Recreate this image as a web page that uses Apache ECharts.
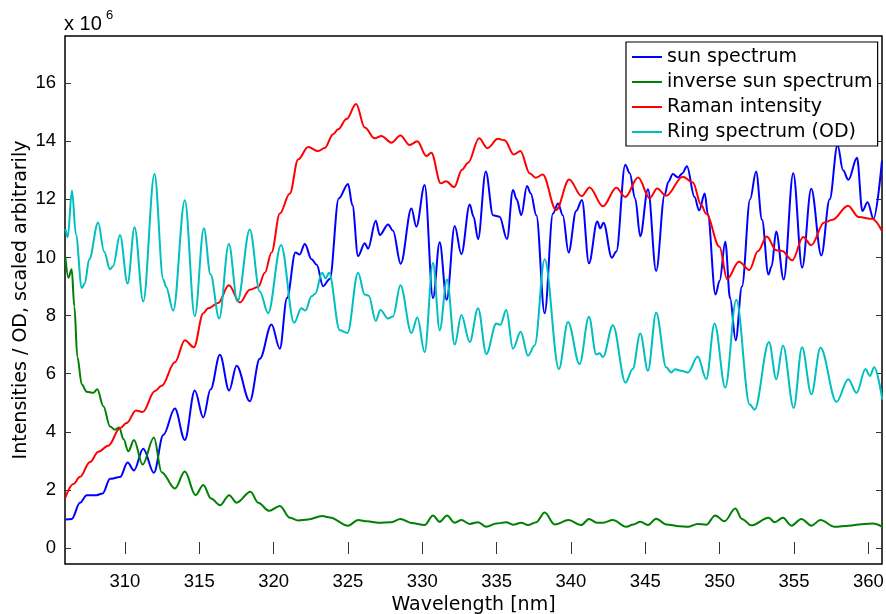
<!DOCTYPE html>
<html>
<head>
<meta charset="utf-8">
<script src="https://cdn.jsdelivr.net/npm/echarts@6/dist/echarts.min.js"></script>
<style>html,body{margin:0;padding:0;background:#fff}#chart{width:886px;height:614px}</style>
</head>
<body>
<div id="chart"></div>
<script>
// spectra, values in units of 1e6 (peaks / valleys)
const sunX = [306.0,306.42,306.98,307.43,308.1,308.5,309.0,309.67,310.18,310.61,311.23,311.95,312.58,313.36,314.03,314.7,315.27,315.76,316.39,317.01,317.51,318.4,319.07,319.86,320.42,320.9,321.47,321.75,322.1,322.55,322.9,323.33,323.78,324.38,325.01,325.3,325.68,326.13,326.35,326.87,327.14,327.7,328.03,328.55,329.27,329.6,330.16,330.72,331.17,331.64,332.18,332.63,333.19,333.45,333.75,334.27,334.76,335.2,335.7,336.1,336.35,336.66,337.04,337.3,337.67,338.23,338.79,339.13,339.45,339.84,340.35,340.74,341.21,341.77,341.97,342.19,342.75,343.05,343.65,343.95,344.32,344.66,345.18,345.73,346.3,346.55,346.85,347.2,347.5,347.8,348.31,348.62,349.0,349.2,349.72,350.0,350.38,350.7,351.08,351.5,352.05,352.45,352.85,353.28,353.5,353.8,354.31,354.95,355.55,356.16,356.84,357.4,357.93,358.3,358.66,359.24,359.6,359.95,360.35,360.92];
const sunY = [0.98,1.0,1.56,1.82,1.82,1.88,2.38,2.44,2.94,2.67,3.42,2.59,3.89,4.8,3.72,5.42,4.49,5.46,6.65,5.42,6.27,5.05,6.51,7.69,6.86,8.6,10.17,10.1,10.46,9.94,9.75,9.01,9.26,12.03,12.53,11.8,10.05,10.49,10.3,11.26,10.77,11.13,10.92,9.78,11.68,11.06,12.49,8.6,10.52,8.54,11.08,10.11,11.82,11.4,10.63,12.96,11.45,11.4,10.63,12.32,12.0,11.45,12.46,12.2,11.45,8.08,11.51,11.86,11.45,10.17,11.6,11.98,9.8,11.24,11.0,11.19,9.99,10.2,13.19,12.9,12.03,10.73,12.35,9.53,12.15,12.6,12.87,12.75,12.9,13.14,12.08,11.62,12.2,11.5,8.72,9.2,10.54,8.6,7.15,9.0,12.0,12.96,11.3,9.41,9.7,10.89,9.24,12.9,9.65,12.36,10.07,12.0,13.87,13.0,12.67,13.43,11.6,11.9,11.33,13.33];

const invX = [306.0,306.2,306.42,306.6,306.8,307.1,307.43,307.87,308.14,308.55,309.0,309.33,309.62,309.9,310.23,310.61,311.19,311.95,312.47,313.36,314.03,314.75,315.27,315.8,316.39,317.01,317.51,318.45,318.96,319.7,320.42,321.09,321.65,322.32,323.26,323.78,325.01,325.68,326.3,327.03,327.92,328.53,329.27,330.16,330.72,331.17,331.66,332.18,332.63,333.19,333.75,334.31,334.98,335.65,336.1,336.66,337.11,337.67,338.23,338.9,339.84,340.69,341.21,341.75,342.15,342.82,343.72,344.2,344.66,345.18,345.73,346.41,347.3,347.86,348.53,349.1,349.7,350.33,351.05,351.5,352.13,353.3,353.7,354.26,354.83,355.5,356.17,356.78,357.75,358.65,359.77,360.3,360.94];
const invY = [9.99,9.3,9.59,8.31,6.57,5.63,5.38,5.34,5.46,4.88,4.18,4.07,4.15,3.75,3.33,3.72,2.87,3.8,2.61,2.05,2.63,1.82,2.17,1.7,1.47,1.82,1.56,1.94,1.56,1.28,1.45,1.04,0.95,0.98,1.1,1.05,0.77,0.96,0.92,0.87,0.89,1.0,0.86,0.79,1.12,0.9,1.12,0.87,0.96,0.83,0.89,0.73,0.84,0.89,0.8,0.87,0.79,0.89,1.22,0.81,0.96,0.79,1.0,0.87,0.87,0.96,0.73,0.81,0.9,0.79,1.01,0.81,0.75,0.73,0.83,0.8,1.12,0.92,1.36,1.0,0.78,1.04,0.89,1.04,0.77,1.0,0.77,0.96,0.73,0.77,0.83,0.84,0.73];

const ramanX = [306.0,306.53,306.98,307.65,308.21,308.88,309.67,310.11,310.74,311.19,312.02,312.47,313.36,314.03,314.64,315.27,315.6,316.27,316.99,317.73,318.4,318.96,319.41,319.86,320.42,321.09,321.65,322.32,323.0,323.44,324.0,324.34,324.9,325.55,326.13,326.8,327.25,327.92,328.53,329.15,329.67,330.27,330.61,331.24,331.6,332.15,332.67,333.08,333.82,334.38,335.09,335.54,336.15,336.6,337.22,337.62,338.1,339.0,339.88,340.72,341.25,342.15,343.05,343.65,344.52,345.29,345.8,346.4,347.52,348.2,348.76,349.1,349.99,350.5,351.3,352.0,352.58,353.17,353.8,354.2,354.88,355.62,356.16,357.03,357.6,358.63,359.35,360.25,360.9];
const ramanY = [1.74,2.2,2.45,2.96,3.31,3.52,4.12,4.3,4.73,4.68,5.4,5.58,6.39,7.15,6.91,8.08,8.25,8.43,9.04,8.45,8.89,8.98,9.47,10.17,11.51,12.2,13.37,13.8,13.66,13.77,14.24,14.41,14.76,15.28,14.47,14.1,14.18,13.95,14.2,13.87,14.0,13.49,13.6,12.55,12.62,12.42,13.02,13.26,14.1,13.76,14.08,14.03,13.54,13.66,12.9,12.74,12.85,11.63,12.68,12.11,12.41,11.76,12.4,12.08,12.75,12.04,12.37,12.12,12.78,12.58,11.8,11.5,10.37,9.26,9.85,9.57,10.22,10.72,10.25,10.22,9.9,10.7,10.42,11.2,11.3,11.78,11.39,11.33,10.93];

const ringX = [306.0,306.15,306.44,306.7,307.1,307.3,307.6,308.2,308.6,309.0,309.2,309.67,310.18,310.65,311.23,311.99,312.58,312.76,313.25,314.03,314.7,315.31,315.76,316.34,316.99,317.57,318.4,319.07,319.63,320.5,321.38,321.87,322.14,322.55,322.8,323.26,323.5,323.73,324.45,324.97,325.68,326.13,326.4,326.87,327.18,327.7,328.03,328.53,329.27,329.67,330.16,330.72,331.17,331.66,332.18,332.63,333.19,333.75,334.31,334.98,335.25,335.65,336.1,336.62,337.11,337.56,338.23,339.19,339.8,340.58,341.21,341.7,341.92,342.15,342.82,343.67,344.15,344.66,345.18,345.73,346.41,346.74,347.0,347.4,347.86,348.53,349.1,349.66,350.38,351.12,352.02,352.35,353.32,353.81,354.26,354.98,355.54,356.17,356.78,357.86,358.65,359.21,359.81,360.1,360.4,360.94];
const ringY = [10.98,10.7,12.3,10.8,8.95,9.1,9.94,11.2,10.2,9.59,9.7,10.77,9.1,11.04,8.48,12.87,9.24,9.0,8.17,11.97,7.98,11.0,9.41,7.9,10.46,8.48,10.96,8.83,8.08,10.43,7.75,8.25,8.17,8.66,8.75,9.47,9.28,9.47,7.49,7.4,9.47,8.72,8.68,7.81,8.19,7.9,7.97,9.04,7.4,7.93,6.74,9.82,7.49,9.24,7.0,8.02,7.09,8.25,6.68,7.73,7.68,8.19,6.86,7.44,6.62,6.97,9.94,6.16,7.78,6.33,7.96,6.66,6.7,6.57,7.67,5.69,6.16,7.38,6.1,8.1,6.22,6.04,6.15,6.1,6.04,6.59,5.81,7.73,5.52,8.54,4.94,4.76,7.09,5.81,6.97,4.82,6.91,5.29,6.89,5.03,5.81,5.34,6.16,5.92,6.22,5.11];

const xTicks = [310, 315, 320, 325, 330, 335, 340, 345, 350, 355, 360];
const yTicks = [0, 2, 4, 6, 8, 10, 12, 14, 16];
const names = ["sun spectrum", "inverse sun spectrum", "Raman intensity", "Ring spectrum (OD)"];
const colors = ["#0000ff", "#008000", "#ff0000", "#00bfbf"];

const pairs = (xs, ys) => xs.map((x, i) => [x, ys[i]]);
const TICK_FONT = "Liberation Sans, Arial, sans-serif";
const TEXT_FONT = "DejaVu Sans, sans-serif";

const chart = echarts.init(document.getElementById("chart"));
const xBase = { type: "value", min: 305.97, max: 360.92, splitLine: { show: false },
  axisLine: { show: false },
  axisTick: { inside: true, length: 6, customValues: xTicks, lineStyle: { color: "#333", width: 1 } } };
const yBase = { type: "value", min: -0.55, max: 17.62, splitLine: { show: false },
  axisLine: { show: false },
  axisTick: { inside: true, length: 6, customValues: yTicks, lineStyle: { color: "#333", width: 1 } } };

chart.setOption({
  animation: false,
  grid: { left: 65, right: 4, top: 36, bottom: 50, outerBoundsMode: "none", containLabel: false,
    show: true, borderColor: "#000", borderWidth: 1.5, backgroundColor: "#fff" },
  xAxis: [
    Object.assign({}, xBase, { position: "bottom", name: "Wavelength [nm]", nameLocation: "middle", nameGap: 32,
      nameMoveOverlap: false,
      nameTextStyle: { fontFamily: TEXT_FONT, fontSize: 19, color: "#000" },
      axisLabel: { customValues: xTicks, margin: 8, fontFamily: TICK_FONT, fontSize: 18.5, color: "#000" } }),
    Object.assign({}, xBase, { position: "top", axisLabel: { show: false } }),
  ],
  yAxis: [
    Object.assign({}, yBase, { position: "left", name: "Intensities / OD, scaled arbitrarily", nameLocation: "middle", nameGap: 34,
      nameMoveOverlap: false,
      nameTextStyle: { fontFamily: TEXT_FONT, fontSize: 19, color: "#000" },
      axisLabel: { customValues: yTicks, margin: 9, fontFamily: TICK_FONT, fontSize: 18.5, color: "#000" } }),
    Object.assign({}, yBase, { position: "right", axisLabel: { show: false } }),
  ],
  legend: {
    orient: "vertical", left: 626, top: 42, padding: [5, 5, 4, 6], itemGap: 5,
    itemWidth: 30, itemHeight: 2, icon: "rect",
    backgroundColor: "#fff", borderColor: "#000", borderWidth: 1.2,
    textStyle: { fontFamily: TEXT_FONT, fontSize: 19, lineHeight: 20, color: "#000" },
    data: names,
  },
  graphic: [
    { type: "text", left: 64, top: 14, style: { text: "x 10", font: "20px " + TICK_FONT, fill: "#000" } },
    { type: "text", left: 106, top: 9, style: { text: "6", font: "13px " + TICK_FONT, fill: "#000" } },
  ],
  series: [
    [sunX, sunY], [invX, invY], [ramanX, ramanY], [ringX, ringY],
  ].map(([xs, ys], i) => ({
    name: names[i], type: "line", data: pairs(xs, ys), showSymbol: false, symbol: "none",
    smooth: 0.35, smoothMonotone: "x", color: colors[i], lineStyle: { width: 2, color: colors[i] },
    z: 2 + i,
  })),
});
</script>
</body>
</html>
